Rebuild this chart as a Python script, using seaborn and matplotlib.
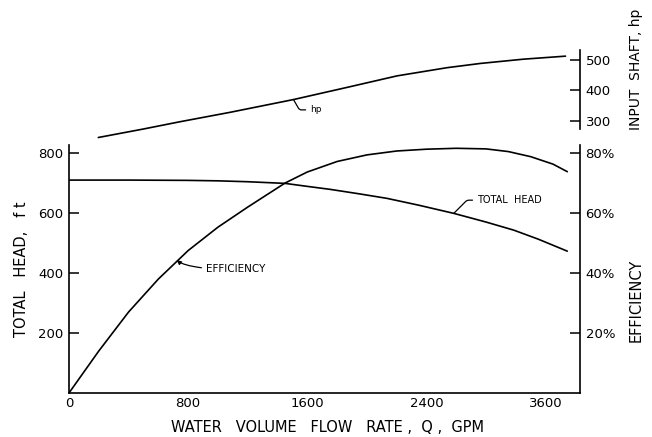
import matplotlib
matplotlib.use('Agg')
import matplotlib.pyplot as plt
import seaborn as sns

# curve values (x in the chart's linear flow units)
head_q = [0, 400, 800, 1000, 1200, 1450, 1600, 1754, 1950, 2135, 2350, 2583, 2800, 2986, 3150, 3345]
head_ft = [710, 710, 709, 707.5, 704.5, 699, 689, 679, 664, 649, 626, 599, 570, 543, 513, 473]

eff_q = [0, 200, 400, 600, 800, 1000, 1200, 1450, 1600, 1800, 2000, 2200, 2400, 2600,
         2800, 2950, 3100, 3250, 3345]
eff_pct = [0, 14, 27, 38, 47.5, 55.3, 62, 70, 73.7, 77.2, 79.4, 80.7, 81.3, 81.6,
           81.4, 80.5, 78.8, 76.3, 73.8]

hp_q = [197, 500, 746, 1082, 1507, 1866, 2202, 2538, 2762, 3050, 3333]
hp_val = [245, 273, 297, 328, 370, 410, 448, 475, 489, 503, 513]

x_ticks = [0, 400, 800, 1200, 1600, 2000, 2400, 2800, 3200]
x_labels = ['0', '', '800', '', '1600', '', '2400', '', '3600']
head_ticks = [200, 400, 600, 800]
eff_ticks = [20, 40, 60, 80]
hp_ticks = [300, 400, 500]

sns.set_style('white')
plt.rcParams['font.family'] = ['DejaVu Sans']
plt.rcParams['text.color'] = 'black'
plt.rcParams['axes.labelcolor'] = 'black'

fig = plt.figure(figsize=(6.52, 4.37), dpi=100)
ax = fig.add_axes([0.1058, 0.1007, 0.7837, 0.5675])
ax2 = ax.twinx()
top = fig.add_axes([0.1058, 0.668, 0.7837, 0.2174])

lw = 1.2
sns.lineplot(x=head_q, y=head_ft, ax=ax, color='black', linewidth=lw)
sns.lineplot(x=eff_q, y=eff_pct, ax=ax2, color='black', linewidth=lw)
sns.lineplot(x=hp_q, y=hp_val, ax=top, color='black', linewidth=lw)

for a in (ax, ax2, top):
    a.set_xlim(0, 3430)

ax.set_ylim(0, 827)
ax2.set_ylim(0, 82.7)
top.set_ylim(220, 533)

ax.spines['top'].set_visible(False)
ax.spines['right'].set_visible(False)
ax2.spines['top'].set_visible(False)
ax2.spines['left'].set_visible(False)
ax2.spines['bottom'].set_visible(False)
for s in ('left', 'bottom', 'top'):
    top.spines[s].set_visible(False)
top.spines['right'].set_bounds(272, 533)
for a in (ax, ax2, top):
    for s in a.spines.values():
        s.set_linewidth(1.2)
        s.set_color('black')

tick_kw = dict(direction='in', length=7, width=1.1, colors='black', labelsize=9.5, pad=4)
ax.set_xticks(x_ticks)
ax.set_xticklabels(x_labels)
ax.set_yticks(head_ticks)
ax.tick_params(axis='both', **tick_kw)
ax.tick_params(axis='x', pad=3)
ax2.set_yticks(eff_ticks)
ax2.set_yticklabels([f'{v}%' for v in eff_ticks])
ax2.tick_params(axis='y', **tick_kw)
top.set_xticks([])
top.set_xlabel('')
top.yaxis.tick_right()
top.set_yticks(hp_ticks)
top.tick_params(axis='y', **tick_kw)
top.patch.set_alpha(0)

ax.set_xlabel('WATER   VOLUME   FLOW   RATE ,  Q ,  GPM', fontsize=10.5, color='black')
ax.xaxis.set_label_coords(0.505, -0.107)
ax.set_ylabel('TOTAL   HEAD,   f t', fontsize=10.5, color='black')
ax.yaxis.set_label_coords(-0.078, 0.5)
ax2.set_ylabel('EFFICIENCY', fontsize=10.5, color='black')
ax2.yaxis.set_label_coords(1.096, 0.375)
top.yaxis.set_label_position('right')
top.set_ylabel('INPUT  SHAFT, hp', fontsize=10, color='black')
top.yaxis.set_label_coords(1.096, 0.80)

# callout labels on the curves
top.annotate('hp', xy=(1507, 370), xytext=(1620, 336), fontsize=6.5, color='black',
             va='center', arrowprops=dict(arrowstyle='-', color='black', lw=0.9, shrinkA=1, shrinkB=0,
                                          connectionstyle='angle,angleA=0,angleB=120,rad=2'))
ax.annotate('TOTAL  HEAD', xy=(2583, 599), xytext=(2740, 643), fontsize=7, color='black',
            va='center', arrowprops=dict(arrowstyle='-', color='black', lw=0.9, shrinkA=1, shrinkB=0,
                                         connectionstyle='angle,angleA=0,angleB=45,rad=2'))
ax2.annotate('EFFICIENCY', xy=(724, 44.3), xytext=(920, 41.2), fontsize=7.5, color='black',
             va='center', arrowprops=dict(arrowstyle='-|>', color='black', lw=0.9,
                                          mutation_scale=6, shrinkA=1, shrinkB=0,
                                          connectionstyle='angle3,angleA=0,angleB=-40'))

fig.savefig('out.png', dpi=100)
